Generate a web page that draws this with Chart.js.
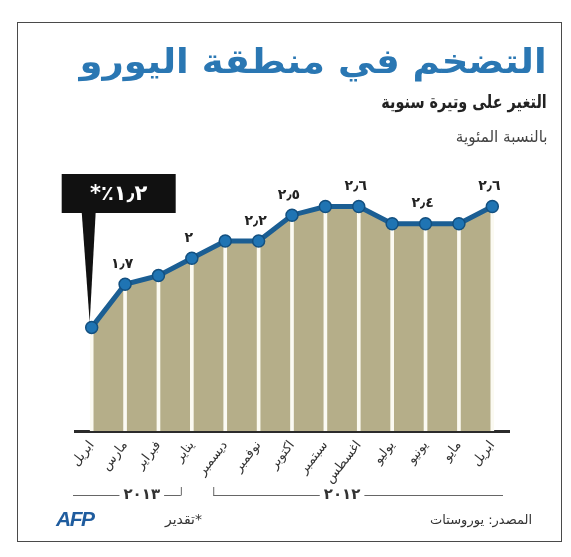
<!DOCTYPE html>
<html>
<head>
<meta charset="utf-8">
<script src="https://cdn.jsdelivr.net/npm/chart.js@4.4.1/dist/chart.umd.min.js"></script>
<style>
  html, body { margin: 0; padding: 0; background: #fff; }
  #wrap { position: relative; width: 571px; height: 557px; overflow: hidden; }
  #frame { position: absolute; left: 17px; top: 22px; width: 543px; height: 518px; border: 1.5px solid #4a4a4a; }
  canvas { position: absolute; left: 0; top: 0; }
  .txt { position: absolute; direction: rtl; white-space: nowrap; line-height: 1; font-family: "DejaVu Sans", sans-serif; transform-origin: right center; }
  #title { right: 24px; top: 44px; font-size: 34px; font-weight: bold; color: #2a77b3; transform: scaleX(1.09); }
  #sub { right: 24px; top: 93px; font-size: 18px; font-weight: bold; color: #222; transform: scaleX(0.8); }
  #unit { right: 24px; top: 129px; font-size: 16px; color: #444; transform: scaleX(0.95); }
  #source { right: 39px; top: 513px; font-size: 13px; color: #333; }
  #est { left: 165px; top: 512px; font-size: 14px; color: #333; }
  #afp { position: absolute; left: 56px; top: 508px; font-family: "Liberation Sans", sans-serif; font-size: 21px; font-weight: bold; font-style: italic; color: #1f5c9e; letter-spacing: -1.5px; line-height: 1; }
</style>
</head>
<body>
<div id="wrap">
  <div id="frame"></div>
  <canvas id="chart" width="571" height="557"></canvas>
  <div class="txt" id="title">التضخم في منطقة اليورو</div>
  <div class="txt" id="sub">التغير على وتيرة سنوية</div>
  <div class="txt" id="unit">بالنسبة المئوية</div>
  <div class="txt" id="source">المصدر: يوروستات</div>
  <div class="txt" id="est">*تقدير</div>
  <div id="afp">AFP</div>
</div>
<script>
// months, left (April 2013) to right (April 2012)
const months = ['ابريل', 'مارس', 'فبراير', 'يناير', 'ديسمبر', 'نوفمبر', 'اكتوبر',
  'سبتمبر', 'اغسطس', 'يوليو', 'يونيو', 'مايو', 'ابريل'];
const inflation = [1.2, 1.7, 1.8, 2.0, 2.2, 2.2, 2.5, 2.6, 2.6, 2.4, 2.4, 2.4, 2.6];
// points that carry a value label
const labelled = [1, 3, 5, 6, 8, 10, 12];
// year groups: first and last month index
const years = [
  { text: '٢٠١٣', from: 0, to: 3 },
  { text: '٢٠١٢', from: 4, to: 12 },
];

const yMin = 0;
const yMax = 3;

// 1.2 -> ١٫٢
function arabicNum(v) {
  return String(v).replace('.', '٫').replace(/\d/g, d => '٠١٢٣٤٥٦٧٨٩'[d]);
}

const annotations = {
  id: 'annotations',
  afterDatasetsDraw(chart) {
    const ctx = chart.ctx;
    const area = chart.chartArea;
    const pts = chart.getDatasetMeta(1).data;
    const x = chart.scales.x;

    ctx.save();
    ctx.direction = 'rtl';

    // value labels above points
    ctx.fillStyle = '#222';
    ctx.font = 'bold 14px "DejaVu Sans"';
    ctx.textAlign = 'center';
    ctx.textBaseline = 'middle';
    labelled.forEach(i => {
      ctx.fillText(arabicNum(inflation[i]), pts[i].x - 3, pts[i].y - 20);
    });

    // callout for latest value
    const p0 = pts[0];
    const boxL = p0.x - 30, boxR = p0.x + 84, boxT = area.top + 2, boxB = area.top + 41;
    ctx.fillStyle = '#111';
    ctx.fillRect(boxL, boxT, boxR - boxL, boxB - boxT);
    ctx.beginPath();
    ctx.moveTo(p0.x - 10, boxB - 1);
    ctx.lineTo(p0.x + 4, boxB - 1);
    ctx.lineTo(p0.x - 2, p0.y - 5);
    ctx.closePath();
    ctx.fill();
    ctx.fillStyle = '#fff';
    ctx.font = 'bold 21px "DejaVu Sans"';
    ctx.letterSpacing = '2px';
    ctx.fillText(arabicNum(inflation[0]) + '٪*', (boxL + boxR) / 2, (boxT + boxB) / 2 + 1);

    // year brackets
    const yy = area.bottom + 64;
    ctx.strokeStyle = '#666';
    ctx.lineWidth = 1;
    ctx.fillStyle = '#333';
    ctx.font = 'bold 15px "DejaVu Sans"';
    ctx.letterSpacing = '3px';
    years.forEach((g, k) => {
      const left = k === 0 ? area.left - 2 : x.getPixelForValue(g.from) - 12;
      const right = k === 0 ? x.getPixelForValue(g.to) - 11 : area.right - 6;
      const mid = k === 0
        ? (x.getPixelForValue(1) + x.getPixelForValue(2)) / 2
        : (x.getPixelForValue(7) + x.getPixelForValue(8)) / 2;
      const w = ctx.measureText(g.text).width;
      ctx.fillText(g.text, mid, yy);
      ctx.beginPath();
      ctx.moveTo(left, yy + 0.5);
      ctx.lineTo(mid - w / 2 - 4, yy + 0.5);
      ctx.moveTo(mid + w / 2 + 4, yy + 0.5);
      ctx.lineTo(right, yy + 0.5);
      if (k === 0) {
        ctx.moveTo(right + 0.5, yy + 0.5);
        ctx.lineTo(right + 0.5, yy - 8);
      } else {
        ctx.moveTo(left + 0.5, yy + 0.5);
        ctx.lineTo(left + 0.5, yy - 8);
      }
      ctx.stroke();
    });
    ctx.restore();
  }
};

new Chart(document.getElementById('chart'), {
  type: 'line',
  data: {
    labels: months,
    datasets: [
      {
        type: 'bar',
        data: inflation,
        backgroundColor: '#fbfaf2',
        barThickness: 3,
        order: 1,
      },
      {
        data: inflation,
        borderColor: '#1b5e93',
        borderWidth: 5,
        backgroundColor: '#b5ae89',
        fill: 'start',
        tension: 0,
        pointRadius: 6,
        pointBackgroundColor: '#1f74b3',
        pointBorderColor: '#135080',
        pointBorderWidth: 1.5,
        order: 0,
      },
    ],
  },
  options: {
    responsive: false,
    animation: false,
    layout: { padding: { left: 75, right: 62, top: 172, bottom: 66 } },
    plugins: {
      legend: { display: false },
      tooltip: { enabled: false },
      filler: { drawTime: 'beforeDatasetsDraw' },
    },
    scales: {
      x: {
        offset: true,
        z: 1,
        grid: { display: false, drawTicks: false },
        border: { display: true, color: '#2b2b2b', width: 3 },
        ticks: {
          minRotation: 52,
          maxRotation: 52,
          padding: 7,
          color: '#333',
          font: { family: 'DejaVu Sans', size: 13 },
          autoSkip: false,
        },
        afterFit(scale) { scale.height = 60; },
      },
      y: {
        display: false,
        min: yMin,
        max: yMax,
      },
    },
  },
  plugins: [annotations],
});
</script>
</body>
</html>
